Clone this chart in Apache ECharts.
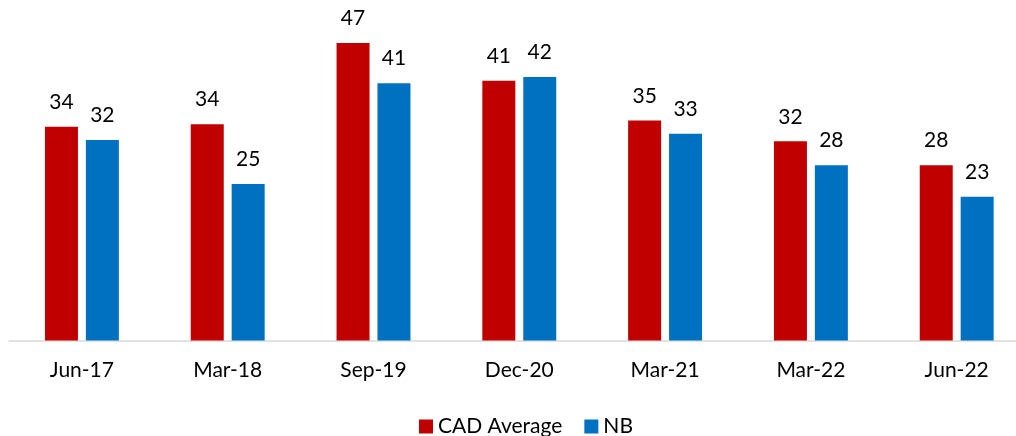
<!DOCTYPE html>
<html>
<head>
<meta charset="utf-8">
<script src="https://cdn.jsdelivr.net/npm/echarts@6/dist/echarts.min.js"></script>
<style>
  html, body { margin: 0; padding: 0; background: #fff; }
  #chart { width: 1016px; height: 436px; }
</style>
</head>
<body>
<div id="chart"></div>
<script>
// values; labels show them rounded
const categories = ['Jun-17', 'Mar-18', 'Sep-19', 'Dec-20', 'Mar-21', 'Mar-22', 'Jun-22']
const cadAverage = [33.9, 34.3, 47.2, 41.2, 34.9, 31.6, 27.8]
const nb = [31.8, 24.8, 40.8, 41.8, 32.8, 27.8, 22.8]

const font = 'Lato'
const valueLabel = {
    show: true,
    position: 'top',
    distance: 14,
    color: '#000',
    fontFamily: font,
    fontSize: 21,
    formatter: p => Math.round(p.value)
}

const myChart = echarts.init(document.getElementById('chart'))
myChart.setOption({
    animation: false,
    // the plot runs a little past the right edge of the picture
    grid: { left: 9, top: 0, width: 1020.6, height: 340.5, outerBoundsMode: 'none', containLabel: false },
    legend: {
        left: 414,
        top: 411,
        icon: 'rect',
        itemWidth: 14,
        itemHeight: 14,
        itemGap: 22,
        textStyle: { fontFamily: font, fontSize: 21, color: '#000' },
        data: ['CAD Average', 'NB']
    },
    xAxis: {
        type: 'category',
        data: categories,
        axisLine: { lineStyle: { color: '#d9d9d9', width: 1.5 } },
        axisTick: { show: false },
        axisLabel: { margin: 19, color: '#000', fontFamily: font, fontSize: 21 }
    },
    yAxis: {
        type: 'value',
        min: 0,
        max: 54,
        show: false,
        splitLine: { show: false }
    },
    series: [
        {
            name: 'CAD Average',
            type: 'bar',
            data: cadAverage,
            barWidth: 33,
            barGap: '24%',
            itemStyle: { color: '#c00000' },
            label: valueLabel
        },
        {
            name: 'NB',
            type: 'bar',
            data: nb,
            barWidth: 33,
            itemStyle: { color: '#0070c0' },
            label: valueLabel
        }
    ]
})
</script>
</body>
</html>
